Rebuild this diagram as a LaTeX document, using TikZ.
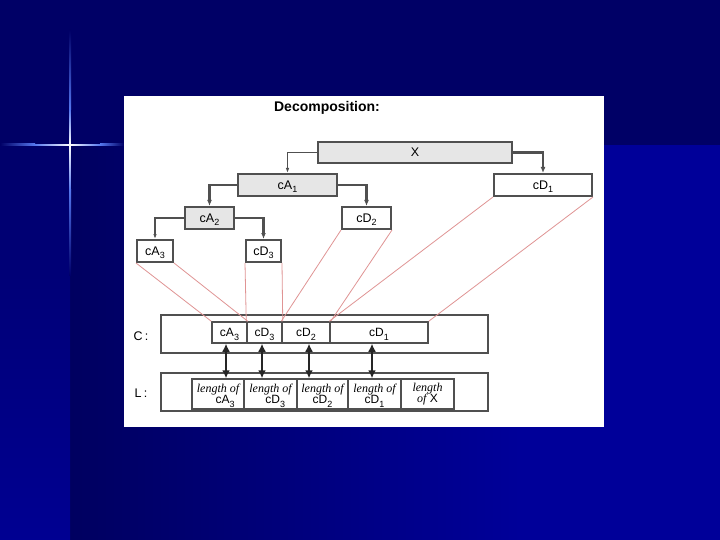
\documentclass[tikz,border=0pt]{standalone}
\usepackage{fontspec}
\setmainfont{Liberation Sans}
\newfontfamily\lser{Liberation Serif}
\usetikzlibrary{arrows.meta}
\definecolor{navy}{HTML}{000066}
\definecolor{darkL}{HTML}{000060}
\definecolor{brightB}{HTML}{000099}
\definecolor{stripTop}{HTML}{00006A}
\definecolor{stripBot}{HTML}{0000A2}
\definecolor{boxgray}{HTML}{505050}
\definecolor{fillgray}{HTML}{E6E6E6}
\definecolor{pinkline}{HTML}{E09494}
\definecolor{glow}{HTML}{5577EE}
\newcommand\sbs[1]{\raisebox{-0.55ex}[0pt][0pt]{\fontsize{9}{9}\selectfont #1}}
\newcommand\lof{{\lser\itshape length of}}
\begin{document}
\begin{tikzpicture}[x=1pt,y=-1pt,
  box/.style={draw=boxgray, line width=2pt, rectangle, inner sep=0pt, fill=white,
    font=\fontsize{12.5}{13}\selectfont},
  gbox/.style={box, fill=fillgray},
  cell/.style={draw=boxgray, line width=1.5pt, rectangle, inner sep=0pt, fill=white,
    minimum height=21pt, font=\fontsize{12}{13}\selectfont},
  lcell/.style={draw=boxgray, line width=1.5pt, rectangle, inner sep=0pt, fill=white,
    minimum height=30pt, align=center, font=\fontsize{12}{11.5}\selectfont},
  cont/.style={draw=boxgray, line width=2pt, rectangle, inner sep=0pt, fill=white,
    minimum width=327pt, minimum height=38pt},
  tree/.style={draw=boxgray, line width=2.2pt, -{Latex[length=6pt,width=5pt]}},
  treethin/.style={draw=boxgray, line width=1.1pt, -{Latex[length=5pt,width=3.5pt]}},
  pink/.style={draw=pinkline, line width=0.8pt},
  dbl/.style={draw=black!85, line width=1.8pt, {Latex[length=8pt,width=8pt]}-{Latex[length=8pt,width=8pt]}},
  lbl/.style={font=\fontsize{12.5}{13}\selectfont}
]
\useasboundingbox (0,0) rectangle (720,540);
% background
\fill[navy] (0,0) rectangle (720,145);
\shade[left color=darkL, right color=brightB] (70,145) rectangle (520,540);
\fill[brightB] (519.5,145) rectangle (720,540);
\fill[navy] (0,0) rectangle (70,145);
\shade[top color=stripTop, bottom color=stripBot!90!black] (0,145) rectangle (70,540);
% sparkle
\shade[top color=navy, bottom color=glow] (69,30) rectangle (71,110);
\shade[top color=glow, bottom color=white] (69.2,110) rectangle (70.8,145);
\shade[top color=white, bottom color=glow] (69.2,145) rectangle (70.8,190);
\shade[top color=glow, bottom color=stripTop] (69,190) rectangle (71,275);
\shade[left color=navy, right color=glow] (0,144) rectangle (35,146);
\shade[left color=glow, right color=white] (35,144.2) rectangle (70,145.8);
\shade[left color=white, right color=glow] (70,144.2) rectangle (100,145.8);
\shade[left color=glow, right color=navy] (100,144) rectangle (124,146);
% white panel
\fill[white] (124,96) rectangle (604,427);
\node[font=\bfseries\fontsize{14}{15}\selectfont] (title) at (327,108) {Decomposition:};
% tree
\node[gbox, minimum width=194pt, minimum height=21pt] (X) at (415,152.5) {X};
\node[gbox, minimum width=99pt, minimum height=22pt] (cA1) at (287.5,185) {cA\sbs{1}};
\node[box, minimum width=98pt, minimum height=22pt] (cD1) at (543,185) {cD\sbs{1}};
\node[gbox, minimum width=49pt, minimum height=22pt] (cA2) at (209.5,218) {cA\sbs{2}};
\node[box, minimum width=49pt, minimum height=22pt] (cD2) at (366.5,218) {cD\sbs{2}};
\node[box, minimum width=36pt, minimum height=22pt] (cA3) at (155,251) {cA\sbs{3}};
\node[box, minimum width=35pt, minimum height=22pt] (cD3) at (263.5,251) {cD\sbs{3}};
\draw[treethin] (X.west) -| (cA1.north);
\draw[tree] (X.east) -| (cD1.north);
\draw[tree] (cA1.west) -| (cA2.north);
\draw[tree] (cA1.east) -| (cD2.north);
\draw[treethin] (cA2.west) -| (cA3.north);
\draw[tree] (cA2.east) -| (cD3.north);
% C row
\node[lbl] (Clbl) at (141,336) {C\,:};
\node[cont] (Cbox) at (324.5,334) {};
\node[cell, minimum width=35pt] (cA3c) at (229.5,332.5) {cA\sbs{3}};
\node[cell, minimum width=35pt] (cD3c) at (264.5,332.5) {cD\sbs{3}};
\node[cell, minimum width=48pt] (cD2c) at (306,332.5) {cD\sbs{2}};
\node[cell, minimum width=98pt] (cD1c) at (379,332.5) {cD\sbs{1}};
% L row
\node[lbl] (Llbl) at (141,393) {L\,:};
\node[cont] (Lbox) at (324.5,392) {};
\node[lcell, minimum width=52pt] (l1) at (218,394) {\lof\\\hspace*{1.2em}cA\sbs{3}};
\node[lcell, minimum width=53pt] (l2) at (270.5,394) {\lof\\\hspace*{0.8em}cD\sbs{3}};
\node[lcell, minimum width=51pt] (l3) at (322.5,394) {\lof\\cD\sbs{2}};
\node[lcell, minimum width=53pt] (l4) at (374.5,394) {\lof\\cD\sbs{1}};
\node[lcell, minimum width=53pt] (l5) at (427.5,394) {{\lser\itshape length}\\{\lser\itshape of} X};
% pink mapping lines
\draw[pink] (cA3.south west) -- (cA3c.north west);
\draw[pink] (cA3.south east) -- (cA3c.north east);
\draw[pink] (cD3.south west) -- (cD3c.north west);
\draw[pink] (cD3.south east) -- (cD3c.north east);
\draw[pink] (cD2.south west) -- (cD2c.north west);
\draw[pink] (cD2.south east) -- (cD2c.north east);
\draw[pink] (cD1.south west) -- (cD1c.north west);
\draw[pink] (cD1.south east) -- (cD1c.north east);
% double arrows
\coordinate (a1) at (226,0);
\coordinate (a2) at (262,0);
\coordinate (a3) at (309,0);
\coordinate (a4) at (372,0);
\draw[dbl] (a1 |- cA3c.south) -- (a1 |- l1.north);
\draw[dbl] (a2 |- cD3c.south) -- (a2 |- l2.north);
\draw[dbl] (a3 |- cD2c.south) -- (a3 |- l3.north);
\draw[dbl] (a4 |- cD1c.south) -- (a4 |- l4.north);
\end{tikzpicture}
\end{document}
